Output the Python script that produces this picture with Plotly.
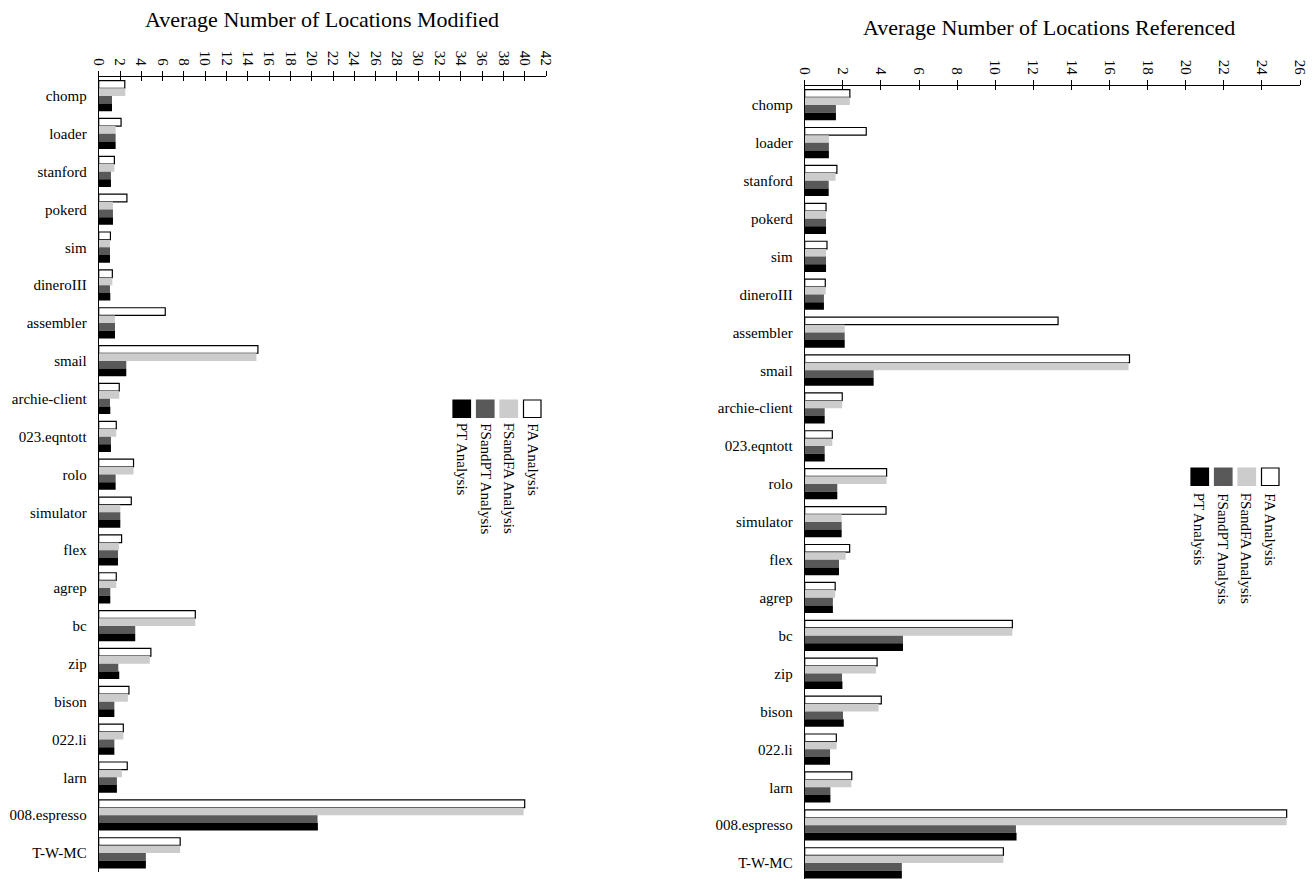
import plotly.graph_objects as go

W, H = 1314, 879

benchmarks = ["chomp", "loader", "stanford", "pokerd", "sim", "dineroIII", "assembler",
              "smail", "archie-client", "023.eqntott", "rolo", "simulator", "flex", "agrep",
              "bc", "zip", "bison", "022.li", "larn", "008.espresso", "T-W-MC"]

series_names = ["FA Analysis", "FSandFA Analysis", "FSandPT Analysis", "PT Analysis"]

# Average number of locations modified
mod_fa = [2.45, 2.1, 1.47, 2.65, 1.1, 1.28, 6.25, 14.95, 1.93, 1.65, 3.27,
          3.06, 2.15, 1.65, 9.07, 4.9, 2.84, 2.31, 2.68, 40.0, 7.65]
mod_fsandfa = [2.5, 1.59, 1.47, 1.34, 1.06, 1.28, 1.53, 14.81, 1.93, 1.65, 3.27,
               2.03, 1.9, 1.65, 9.07, 4.8, 2.74, 2.31, 2.18, 39.9, 7.65]
mod_fsandpt = [1.25, 1.59, 1.15, 1.34, 1.06, 1.06, 1.53, 2.59, 1.06, 1.15, 1.59,
               2.03, 1.81, 1.09, 3.43, 1.84, 1.47, 1.47, 1.71, 20.55, 4.43]
mod_pt = [1.25, 1.59, 1.15, 1.34, 1.06, 1.09, 1.53, 2.59, 1.09, 1.15, 1.59,
          2.03, 1.81, 1.09, 3.43, 1.93, 1.47, 1.47, 1.71, 20.58, 4.43]

# Average number of locations referenced
ref_fa = [2.37, 3.23, 1.69, 1.12, 1.17, 1.08, 13.3, 17.05, 1.97, 1.45, 4.3,
          4.27, 2.36, 1.6, 10.9, 3.8, 4.02, 1.66, 2.47, 25.3, 10.43]
ref_fsandfa = [2.37, 1.27, 1.62, 1.12, 1.12, 1.10, 2.1, 17.0, 1.97, 1.45, 4.3,
               1.94, 2.15, 1.6, 10.9, 3.74, 3.88, 1.68, 2.45, 25.3, 10.43]
ref_fsandpt = [1.64, 1.27, 1.26, 1.12, 1.12, 1.01, 2.1, 3.62, 1.05, 1.05, 1.71,
               1.94, 1.8, 1.48, 5.16, 1.96, 2.01, 1.33, 1.35, 11.09, 5.1]
ref_pt = [1.64, 1.27, 1.26, 1.12, 1.12, 1.01, 2.1, 3.62, 1.05, 1.05, 1.71,
          1.94, 1.8, 1.48, 5.16, 1.98, 2.05, 1.33, 1.35, 11.12, 5.1]

fills = ["#ffffff", "#cccccc", "#595959", "#000000"]
outline = [1.2, 0, 0, 0]

FONT = "Liberation Serif"


def px(x):
    return x / W


def py(y):
    return 1 - y / H


fig = go.Figure()

panels = [
    ("x", "y", [mod_fa, mod_fsandfa, mod_fsandpt, mod_pt]),
    ("x2", "y2", [ref_fa, ref_fsandfa, ref_fsandpt, ref_pt]),
]
for xa, ya, data in panels:
    for name, vals, col, lw in zip(series_names, data, fills, outline):
        fig.add_trace(go.Bar(
            x=vals, y=benchmarks, orientation="h", name=name,
            marker=dict(color=col, line=dict(color="#000000", width=lw)),
            xaxis=xa, yaxis=ya, showlegend=False,
        ))

# empty traces that carry the companion tick axes (ticks crossing the axis line)
fig.add_trace(go.Scatter(x=[], y=[], xaxis="x3", yaxis="y", showlegend=False))
fig.add_trace(go.Scatter(x=[], y=[], xaxis="x4", yaxis="y2", showlegend=False))

xcommon = dict(side="top", showgrid=False, zeroline=False, showline=True,
               linecolor="#000000", linewidth=1, tickcolor="#000000",
               tickwidth=1, ticklen=5, dtick=2, tick0=0, tickangle=90,
               automargin=False,
               tickfont=dict(family=FONT, size=15, color="#000000"))
ycommon = dict(type="category", showgrid=False, zeroline=False, showline=True,
               linecolor="#000000", linewidth=1, ticks="", ticklabelstandoff=8,
               automargin=False,
               tickfont=dict(family=FONT, size=15, color="#000000"))
xtick_companion = dict(side="top", dtick=2, tick0=0, ticks="inside", ticklen=4,
                       tickcolor="#000000", showticklabels=False, showgrid=False,
                       zeroline=False, showline=False, automargin=False)

left_x = [px(98.7), px(546)]
right_x = [px(804.7), px(1300)]

fig.update_layout(
    template="none",
    width=W, height=H,
    margin=dict(l=0, r=0, t=0, b=0, pad=0),
    paper_bgcolor="#ffffff", plot_bgcolor="rgba(0,0,0,0)",
    barmode="group", bargap=0.19, bargroupgap=0,
    xaxis=dict(domain=left_x, anchor="y", range=[0, 42], ticks="outside", **xcommon),
    yaxis=dict(domain=[py(872), py(77)], anchor="x", range=[20.5, -0.5], **ycommon),
    xaxis2=dict(domain=right_x, anchor="y2", range=[0, 26], ticks="outside", **xcommon),
    yaxis2=dict(domain=[0, py(86)], anchor="x2", range=[20.42, -0.5], **ycommon),
    xaxis3=dict(overlaying="x", anchor="y", range=[0, 42], **xtick_companion),
    xaxis4=dict(overlaying="x2", anchor="y2", range=[0, 26], **xtick_companion),
    font=dict(family=FONT, color="#000000"),
    showlegend=False,
)

# panel titles
fig.add_annotation(text="Average Number of Locations Modified", x=px(322), y=py(20),
                   xref="paper", yref="paper", showarrow=False, xanchor="center",
                   yanchor="middle", font=dict(family=FONT, size=22, color="#000000"))
fig.add_annotation(text="Average Number of Locations Referenced", x=px(1049), y=py(27),
                   xref="paper", yref="paper", showarrow=False, xanchor="center",
                   yanchor="middle", font=dict(family=FONT, size=22, color="#000000"))

# rotated legends: swatches in a row, labels running downward beneath them
legend_order = [3, 2, 1, 0]  # PT, FSandPT, FSandFA, FA from left to right
legend_specs = [
    dict(x0=453, top=400, step=23.5, text_top=421),
    dict(x0=1191, top=468, step=23.5, text_top=491),
]
sw = 17.5
for spec in legend_specs:
    for k, idx in enumerate(legend_order):
        x0 = spec["x0"] + k * spec["step"]
        fig.add_shape(type="rect", xref="paper", yref="paper",
                      x0=px(x0), x1=px(x0 + sw), y0=py(spec["top"] + sw), y1=py(spec["top"]),
                      fillcolor=fills[idx],
                      line=dict(color="#000000" if idx == 0 else fills[idx], width=1.2))
        fig.add_annotation(text=series_names[idx], textangle=90,
                           x=px(x0 + sw / 2), y=py(spec["text_top"]),
                           xref="paper", yref="paper", showarrow=False,
                           xanchor="center", yanchor="top",
                           font=dict(family=FONT, size=15, color="#000000"))

fig.write_html("out.html")
